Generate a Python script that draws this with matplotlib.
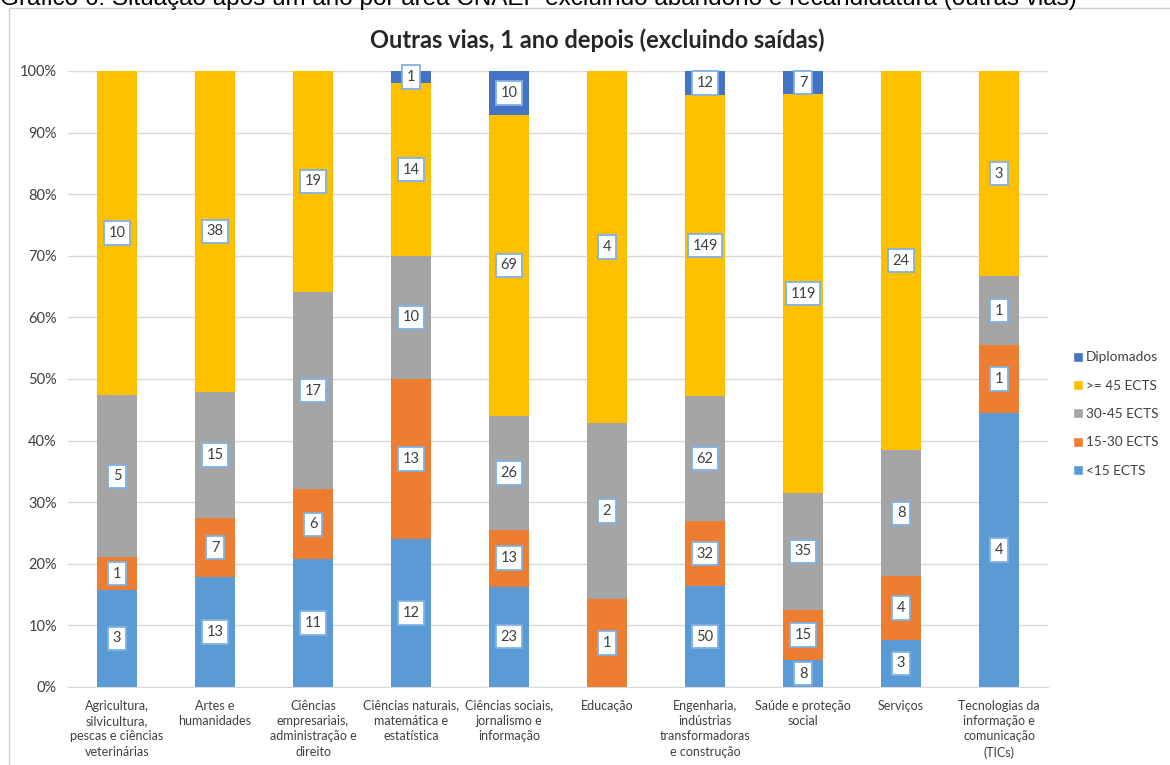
import matplotlib
matplotlib.use("Agg")
import matplotlib.pyplot as plt
import numpy as np
from matplotlib.patches import Rectangle
from matplotlib.lines import Line2D

categories = [
    "Agricultura,\nsilvicultura,\npescas e ciências\nveterinárias",
    "Artes e\nhumanidades",
    "Ciências\nempresariais,\nadministração e\ndireito",
    "Ciências naturais,\nmatemática e\nestatística",
    "Ciências sociais,\njornalismo e\ninformação",
    "Educação",
    "Engenharia,\nindústrias\ntransformadoras\ne construção",
    "Saúde e proteção\nsocial",
    "Serviços",
    "Tecnologias da\ninformação e\ncomunicação\n(TICs)",
]
lt15 = [3, 13, 11, 12, 23, 0, 50, 8, 3, 4]
e15_30 = [1, 7, 6, 13, 13, 1, 32, 15, 4, 1]
e30_45 = [5, 15, 17, 10, 26, 2, 62, 35, 8, 1]
ge45 = [10, 38, 19, 14, 69, 4, 149, 119, 24, 3]
diplomados = [0, 0, 0, 1, 10, 0, 12, 7, 0, 0]
series_names = ["<15 ECTS", "15-30 ECTS", "30-45 ECTS", ">= 45 ECTS", "Diplomados"]
series_colors = ["#5B9BD5", "#ED7D31", "#A5A5A5", "#FFC000", "#4472C4"]
yticks = [0, 10, 20, 30, 40, 50, 60, 70, 80, 90, 100]
title = "Outras vias, 1 ano depois (excluindo saídas)"
caption = "Gráfico 6: Situação após um ano por área CNAEF excluindo abandono e recandidatura (outras vias)"

plt.rcParams['font.family'] = ['Lato', 'DejaVu Sans']

fig = plt.figure(figsize=(11.7, 7.65), dpi=100)
W, H = 1170, 765
ax = fig.add_axes([68 / W, 1 - 687 / H, 980 / W, (687 - 71) / H])

data = np.array([lt15, e15_30, e30_45, ge45, diplomados], dtype=float)
totals = data.sum(axis=0)
pct = data / totals * 100
x = np.arange(len(categories))
bottom = np.zeros(len(categories))
for i, (name, col) in enumerate(zip(series_names, series_colors)):
    ax.bar(x, pct[i], bottom=bottom, width=0.41, color=col, label=name, zorder=2)
    for j in range(len(categories)):
        if data[i, j] > 0:
            ax.text(x[j], bottom[j] + pct[i, j] / 2, f"{int(data[i, j])}",
                    ha='center', va='center', fontsize=10.5, color='#404040', zorder=4,
                    bbox=dict(boxstyle='square,pad=0.32', fc='white', ec='#7FB2E5', lw=1.3))
    bottom += pct[i]

ax.set_xlim(-0.5, len(categories) - 0.5)
ax.set_ylim(0, 100)
ax.set_yticks(yticks)
ax.set_yticklabels([f"{t}%" for t in yticks], fontsize=10.5, color='#404040')
ax.set_xticks(x)
ax.set_xticklabels(categories, fontsize=9, color='#404040', linespacing=1.35)
ax.tick_params(axis='both', length=0)
ax.tick_params(axis='x', pad=9)
ax.tick_params(axis='y', pad=8)
ax.grid(axis='y', color='#D9D9D9', lw=1, zorder=0)
for s in ['top', 'right', 'left']:
    ax.spines[s].set_visible(False)
ax.spines['bottom'].set_color('#D9D9D9')
ax.spines['bottom'].set_zorder(3)

handles = [Line2D([0], [0], marker='s', color='w', markerfacecolor=c, markersize=7.5, lw=0)
           for c in series_colors[::-1]]
fig.legend(handles, series_names[::-1], loc='center left', bbox_to_anchor=(1062 / W, 1 - 414 / H),
           frameon=False, fontsize=9.8, handletextpad=0.05, labelspacing=1.2, handlelength=1.0,
           labelcolor='#404040', borderpad=0.2)

fig.text(597 / W, 1 - 40 / H, title, ha='center', va='center', fontsize=17, fontweight='bold',
         color='#262626')
fig.add_artist(Rectangle((9 / W, -0.01), 1165 / W, 1 - 8 / H + 0.01, transform=fig.transFigure,
                         fill=False, ec='#D0D0D0', lw=1))
fig.text(0 / W, 1 - 5 / H, caption, ha='left', va='baseline', fontsize=17.5,
         family='Liberation Sans', color='#000000')

fig.savefig("out.png", dpi=100)
